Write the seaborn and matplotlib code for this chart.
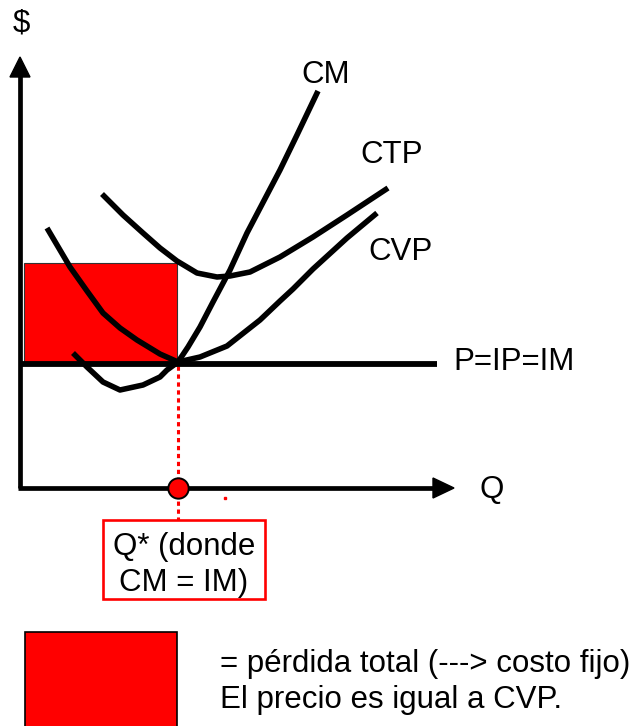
import numpy as np
import pandas as pd
import matplotlib.pyplot as plt
from matplotlib.patches import Rectangle, Polygon
import seaborn as sns

# Curves (Q, $), origin at the corner of the axes
cm_q = [53, 67, 83, 100, 123, 140, 147, 158, 168, 180, 193, 210, 227, 260, 277, 298]
cm_p = [135, 121, 106, 98, 103, 111, 118, 126, 141, 161, 186, 218, 255, 318, 353, 397]

cvp_q = [27, 50, 67, 83, 100, 117, 140, 158, 180, 207, 240, 260, 273, 293, 327, 357]
cvp_p = [260, 221, 197, 175, 160, 148, 134, 126, 131, 142, 168, 187, 199, 219, 250, 275]

ctp_q = [82, 103, 123, 140, 157, 177, 197, 210, 230, 260, 293, 327, 368]
ctp_p = [294, 273, 255, 240, 227, 215, 211, 212, 216, 231, 251, 273, 300]

price = 124          # P = IP = IM
q_star = 158         # Q* where CM = IM
ctp_at_qstar = 225   # top of the loss rectangle

curve_labels = ["CM", "CTP", "CVP", "P=IP=IM"]

sns.set_style("white")
plt.rcParams['font.family'] = ['Liberation Sans', 'DejaVu Sans']
plt.rcParams['text.color'] = 'black'

fig = plt.figure(figsize=(6.41, 7.26), dpi=100)
ax = fig.add_axes([0, 0, 1, 1])
ax.set_xlim(-20, 621)
ax.set_ylim(-238, 488)
ax.axis('off')

fs = 22.5

# loss rectangle
ax.add_patch(Rectangle((4, price), q_star - 1 - 4, ctp_at_qstar - price,
                       facecolor='#ff0000', edgecolor='#333333', lw=0.8, zorder=1))

# axes with arrows
ax.plot([0, 0], [0, 412], color='black', lw=3.4, solid_capstyle='butt', zorder=3)
ax.add_patch(Polygon([(-10, 411), (10, 411), (0, 431)], closed=True, color='black', zorder=3))
ax.plot([-2, 414], [0, 0], color='black', lw=3.4, solid_capstyle='butt', zorder=3)
ax.add_patch(Polygon([(413, -10), (413, 10), (434, 0)], closed=True, color='black', zorder=3))

# price line
ax.plot([0, 417], [price, price], color='black', lw=4.2, solid_capstyle='butt', zorder=3)

# cost curves
for qq, pp in [(cm_q, cm_p), (cvp_q, cvp_p), (ctp_q, ctp_p)]:
    sns.lineplot(x=qq, y=pp, sort=False, estimator=None, color='black', linewidth=4.0,
                 solid_capstyle='butt', solid_joinstyle='round', ax=ax, zorder=4)

# dotted red line down from Q*
ax.plot([q_star, q_star], [price - 2, -32], color='#ff0000', lw=2.2,
        dashes=(1.4, 1.2), zorder=2)
ax.scatter([q_star], [0], s=215, color='#ff0000', edgecolor='black', lw=1.4, zorder=5)
ax.plot([205], [-10], marker='s', ms=2, color='#ff0000', lw=0)

# labels
ax.text(1, 456, "$", fontsize=fs, ha='center', va='baseline')
ax.text(472, -10, "Q", fontsize=fs, ha='center', va='baseline')
ax.text(306, 405, curve_labels[0], fontsize=fs, ha='center', va='baseline')
ax.text(372, 325, curve_labels[1], fontsize=fs, ha='center', va='baseline')
ax.text(381, 228, curve_labels[2], fontsize=fs, ha='center', va='baseline')
ax.text(433, 118, curve_labels[3], fontsize=fs, ha='left', va='baseline')

# Q* box
ax.add_patch(Rectangle((83, -111), 162, 79, facecolor='white', edgecolor='#ff0000',
                       lw=1.9, zorder=3))
ax.text(164, -67, "Q* (donde", fontsize=fs, ha='center', va='baseline', zorder=4)
ax.text(164, -103, "CM = IM)", fontsize=fs, ha='center', va='baseline', zorder=4)

# legend square
ax.add_patch(Rectangle((5, -260), 152, 116, facecolor='#ff0000', edgecolor='black',
                       lw=1.2, zorder=3))
ax.text(200, -184, "= pérdida total (---> costo fijo)", fontsize=fs, ha='left', va='baseline')
ax.text(200, -220, "El precio es igual a CVP.", fontsize=fs, ha='left', va='baseline')

fig.savefig("out.png", dpi=100)
